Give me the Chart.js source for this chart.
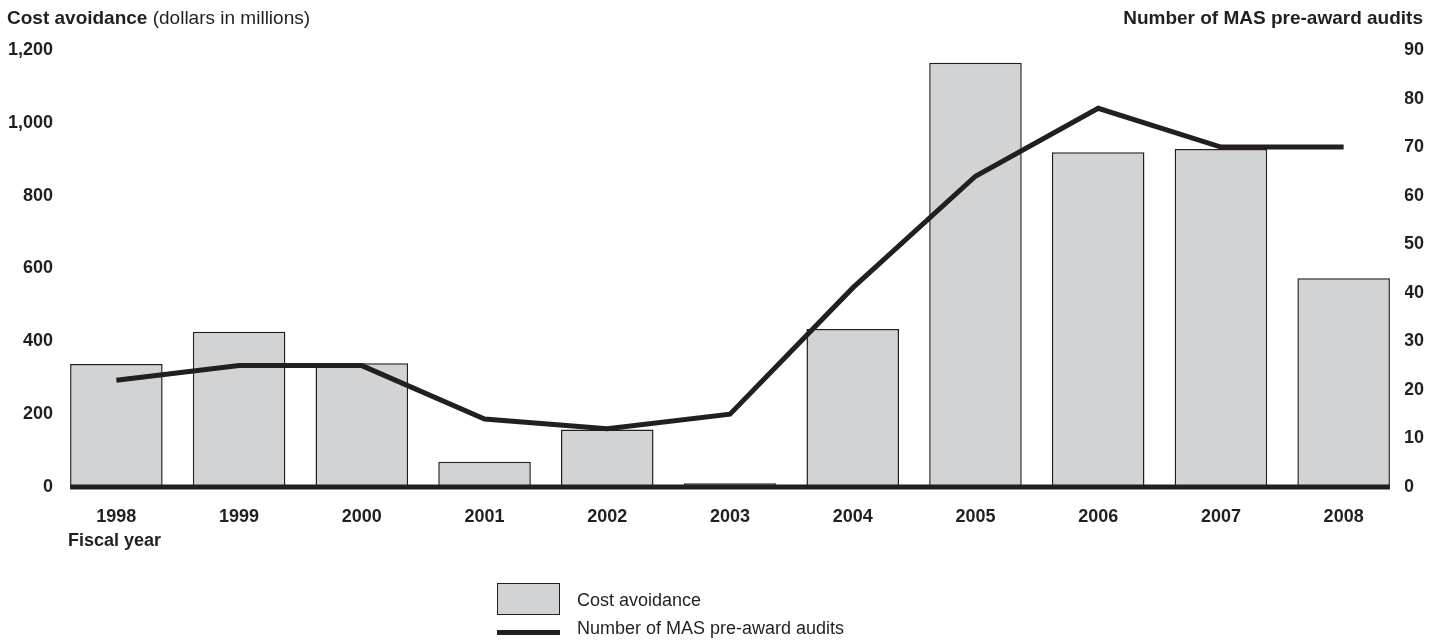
<!DOCTYPE html>
<html>
<head>
<meta charset="utf-8">
<script src="https://cdn.jsdelivr.net/npm/chart.js@4.4.0/dist/chart.umd.min.js"></script>
<style>
  body { margin: 0; background: #fff; }
  #wrap { position: relative; width: 1442px; height: 641px; font-family: "Liberation Sans", Arial, sans-serif; color: #231f20; }
  #wrap canvas { position: absolute; left: 0; top: 0; }
  .txt { position: absolute; line-height: 1; white-space: nowrap; }
  .b { font-weight: bold; }
</style>
</head>
<body>
<div id="wrap">
  <canvas id="chart" width="1442" height="641"></canvas>
  <div class="txt" style="left:7px; top:8px; font-size:19px;"><span class="b">Cost avoidance</span> (dollars in millions)</div>
  <div class="txt b" style="right:19px; top:8px; font-size:19px;">Number of MAS pre-award audits</div>
  <div class="txt b" style="left:68px; top:531px; font-size:18px;">Fiscal year</div>
  <div style="position:absolute; left:497px; top:583px; width:63px; height:32px; box-sizing:border-box; background:#d1d3d4; border:1px solid #231f20;"></div>
  <div class="txt" style="left:577px; top:591px; font-size:18px;">Cost avoidance</div>
  <div style="position:absolute; left:497px; top:630px; width:63px; height:5px; background:#231f20;"></div>
  <div class="txt" style="left:577px; top:619px; font-size:18px;">Number of MAS pre-award audits</div>
</div>
<script>
// fiscal years and the two series
const years = ["1998", "1999", "2000", "2001", "2002", "2003", "2004", "2005", "2006", "2007", "2008"];
const costAvoidance = [338, 426, 340, 69, 158, 10, 434, 1165, 919, 928, 573];
const preAwardAudits = [22, 25, 25, 14, 12, 15, 41, 64, 78, 70, 70];

const ink = "#231f20";
const tickFont = { family: "'Liberation Sans', Arial, sans-serif", size: 18, weight: "bold" };

// thick zero line under the bars, from first bar edge to last bar edge
const baseline = {
  id: "baseline",
  afterDatasetsDraw(chart) {
    const bars = chart.getDatasetMeta(1).data;
    if (!bars.length) return;
    const first = bars[0], last = bars[bars.length - 1];
    const y = chart.scales.y.getPixelForValue(0);
    const ctx = chart.ctx;
    ctx.save();
    ctx.strokeStyle = ink;
    ctx.lineWidth = 5;
    ctx.beginPath();
    ctx.moveTo(first.x - first.width / 2, y);
    ctx.lineTo(last.x + last.width / 2, y);
    ctx.stroke();
    ctx.restore();
  },
};

new Chart(document.getElementById("chart"), {
  data: {
    labels: years,
    datasets: [
      {
        type: "line",
        label: "Number of MAS pre-award audits",
        data: preAwardAudits,
        yAxisID: "y1",
        borderColor: ink,
        borderWidth: 5,
        pointRadius: 0,
        tension: 0,
        borderJoinStyle: "miter",
        order: 0,
      },
      {
        type: "bar",
        label: "Cost avoidance",
        data: costAvoidance,
        yAxisID: "y",
        backgroundColor: "#d1d3d4",
        borderColor: ink,
        borderWidth: 1.5,
        barPercentage: 0.754,
        categoryPercentage: 1,
        order: 1,
      },
    ],
  },
  options: {
    responsive: false,
    animation: false,
    layout: { padding: { top: 50, left: 0, right: 0, bottom: 0 } },
    plugins: { legend: { display: false }, tooltip: { enabled: false } },
    scales: {
      x: {
        grid: { display: false, drawTicks: false },
        border: { display: false },
        ticks: { color: ink, font: tickFont, padding: 19, maxRotation: 0 },
        afterFit: (s) => { s.height = 154; },
      },
      y: {
        position: "left",
        min: 0,
        max: 1200,
        grid: { display: false, drawTicks: false },
        border: { display: false },
        ticks: {
          stepSize: 200,
          color: ink,
          font: tickFont,
          padding: 2,
          callback: (v) => v.toLocaleString("en-US"),
        },
        afterFit: (s) => { s.width = 55; },
      },
      y1: {
        position: "right",
        min: 0,
        max: 90,
        grid: { display: false, drawTicks: false },
        border: { display: false },
        ticks: { stepSize: 10, color: ink, font: tickFont, padding: -1 },
        afterFit: (s) => { s.width = 37; },
      },
    },
  },
  plugins: [baseline],
});
</script>
</body>
</html>
